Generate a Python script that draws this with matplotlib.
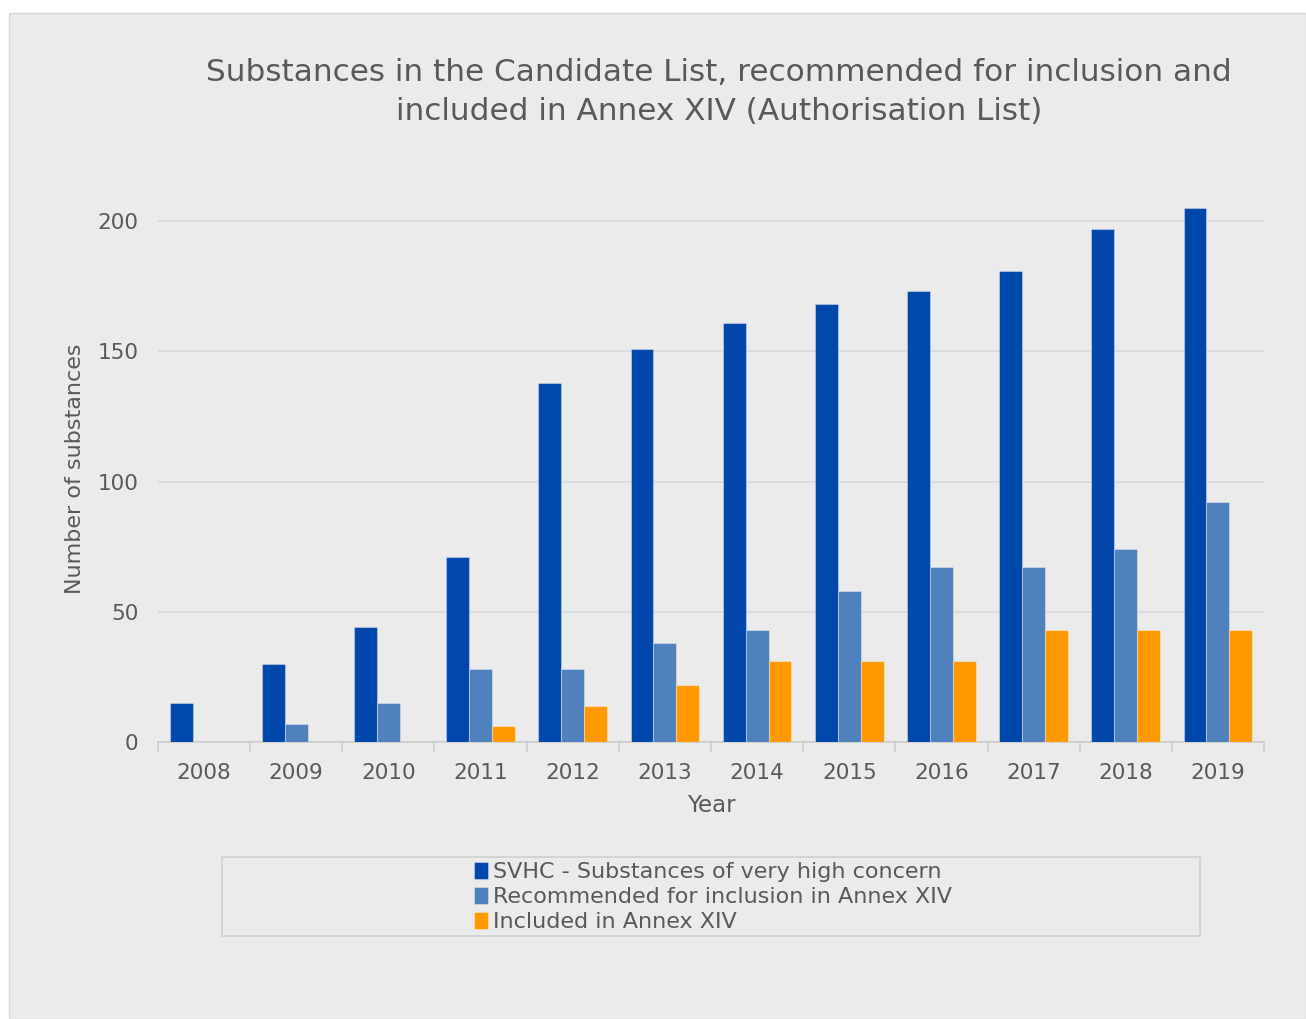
import matplotlib.pyplot as plt
import matplotlib.patches as mpatches
import numpy as np

years = ["2008", "2009", "2010", "2011", "2012", "2013",
         "2014", "2015", "2016", "2017", "2018", "2019"]
svhc = [15, 30, 44, 71, 138, 151, 161, 168, 173, 181, 197, 205]
recommended = [0, 7, 15, 28, 28, 38, 43, 58, 67, 67, 74, 92]
included = [0, 0, 0, 6, 14, 22, 31, 31, 31, 43, 43, 43]

series_names = ["SVHC - Substances of very high concern",
                "Recommended for inclusion in Annex XIV",
                "Included in Annex XIV"]
colors = ["#0047AB", "#4F81BD", "#FF9900"]

BG = "#EBEBEB"
TXT = "#595959"
GRID = "#D9D9D9"
W, H = 1306, 1019

fig = plt.figure(figsize=(W / 100, H / 100), dpi=100, facecolor="white")

# grey chart area with thin border
fig.patches.append(mpatches.Rectangle((9 / W, 0), 1 - 9 / W, 1 - 13 / H,
                                      transform=fig.transFigure,
                                      facecolor=BG, edgecolor="#D6D6D6",
                                      lw=1, zorder=-10))

ax = fig.add_axes([158 / W, 277 / H, (1264 - 158) / W, (742 - 195) / H])
ax.set_facecolor(BG)

x = np.arange(len(years))
bw = 0.248
for i, (vals, col, name) in enumerate(zip([svhc, recommended, included],
                                          colors, series_names)):
    ax.bar(x + (i - 1) * bw, vals, bw, color=col, label=name,
           edgecolor=(1, 1, 1, 0.35), linewidth=0.8, zorder=3)

ax.set_xlim(-0.5, len(years) - 0.5)
ax.set_ylim(0, 210)
ax.set_yticks([0, 50, 100, 150, 200])
ax.yaxis.grid(True, color=GRID, lw=1.2, zorder=0)
ax.set_axisbelow(True)

ax.set_xticks(x)
ax.set_xticklabels(years)
ax.set_xticks(np.arange(len(years) + 1) - 0.5, minor=True)
ax.tick_params(axis="x", which="major", length=0, pad=15,
               labelsize=15.5, labelcolor=TXT)
ax.tick_params(axis="x", which="minor", length=7, width=1.2,
               color="#CCCCCC", direction="out")
ax.tick_params(axis="y", length=0, pad=14, labelsize=15.5, labelcolor=TXT)

for side in ["top", "right", "left"]:
    ax.spines[side].set_visible(False)
ax.spines["bottom"].set_color("#CCCCCC")
ax.spines["bottom"].set_linewidth(1.2)

ax.set_xlabel("Year", fontsize=16.5, color=TXT, labelpad=8)
ax.set_ylabel("Number of substances", fontsize=16, color=TXT, labelpad=9)

fig.text(719 / W, 1 - 92 / H,
         "Substances in the Candidate List, recommended for inclusion and\n"
         "included in Annex XIV (Authorisation List)",
         ha="center", va="center", fontsize=22.4, color=TXT, linespacing=1.4)

# legend box
fig.patches.append(mpatches.Rectangle((222 / W, 1 - 936 / H),
                                      (1200 - 222) / W, (936 - 857) / H,
                                      transform=fig.transFigure,
                                      facecolor="none", edgecolor="#D0D0D0",
                                      lw=1.2, zorder=1))
handles, labels = ax.get_legend_handles_labels()
fig.legend(handles, labels, loc="upper left",
           bbox_to_anchor=(465 / W, 1 - 853 / H), frameon=False,
           fontsize=16, labelcolor=TXT, handlelength=0.65, handleheight=0.8,
           handletextpad=0.2, labelspacing=0.22, borderaxespad=0)

fig.savefig("out.png", dpi=100, facecolor="white")
